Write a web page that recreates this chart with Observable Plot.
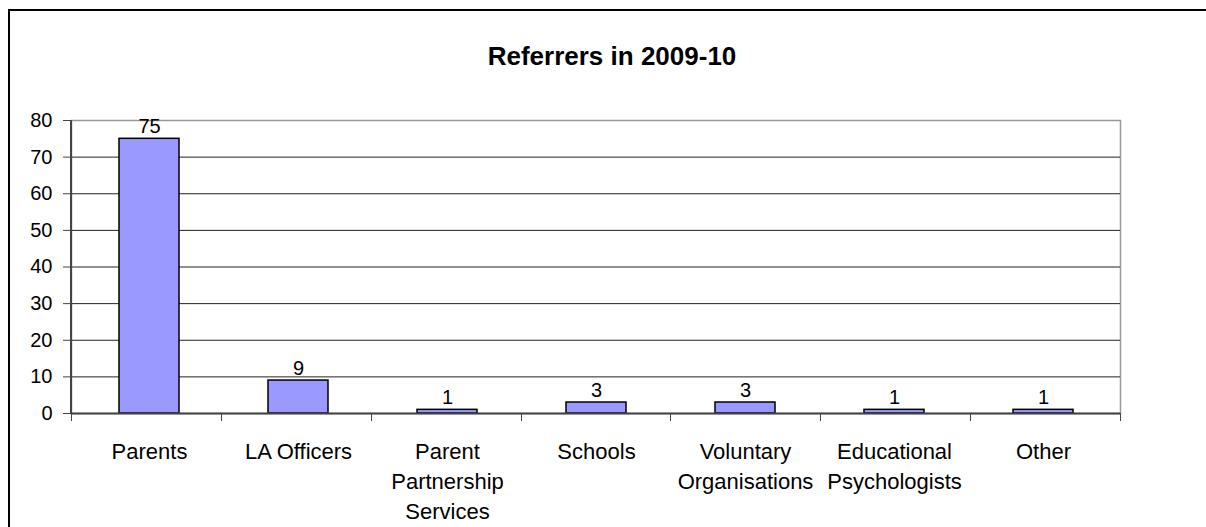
<!DOCTYPE html>
<html>
<head>
<meta charset="utf-8">
<script src="https://cdn.jsdelivr.net/npm/d3@7"></script>
<script src="https://cdn.jsdelivr.net/npm/@observablehq/plot@0.6"></script>
<style>
  html, body { margin: 0; padding: 0; background: #fff; }
  #chart { position: relative; width: 1206px; height: 527px; overflow: hidden; font-family: "Liberation Sans", Arial, sans-serif; }
  #border { position: absolute; left: 8px; top: 9px; width: 1400px; height: 700px; border-top: 2px solid #000; border-left: 2px solid #000; }
  #title { position: absolute; left: 612px; top: 41px; transform: translateX(-50%); font-size: 26px; font-weight: bold; white-space: nowrap; color: #000; }
  #plot { position: absolute; left: 0; top: 0; }
</style>
</head>
<body>
<div id="chart">
  <div id="border"></div>
  <div id="plot"></div>
  <div id="title">Referrers in 2009-10</div>
</div>
<script>
const categories = ["Parents", "LA Officers", "Parent\nPartnership\nServices", "Schools", "Voluntary\nOrganisations", "Educational\nPsychologists", "Other"];
const values = [75, 9, 1, 3, 3, 1, 1];
const yTicks = [0, 10, 20, 30, 40, 50, 60, 70, 80];

const data = categories.map((c, i) => ({category: c, value: values[i]}));

// draws the left axis line and the category boundary ticks of the x axis
function axisLines(index, scales, values, dims) {
  const g = d3.create("svg:g");
  const x0 = dims.marginLeft, x1 = dims.width - dims.marginRight;
  const y0 = dims.marginTop, y1 = dims.height - dims.marginBottom;
  const n = categories.length;
  const step = (x1 - x0) / n;
  g.append("line").attr("x1", x0).attr("x2", x0).attr("y1", y0).attr("y2", y1 + 1)
    .attr("stroke", "#444").attr("stroke-width", 2);
  for (let i = 0; i <= n; i++) {
    const px = Math.round(x0 + i * step) + 0.5;
    g.append("line").attr("x1", px).attr("x2", px).attr("y1", y1).attr("y2", y1 + 8)
      .attr("stroke", "#444").attr("stroke-width", 1);
  }
  return g.node();
}

const plot = Plot.plot({
  width: 1206,
  height: 527,
  marginLeft: 71,
  marginRight: 86,
  marginTop: 120,
  marginBottom: 114,
  style: {fontFamily: "'Liberation Sans', Arial, sans-serif", background: "transparent", color: "#000"},
  x: {domain: categories, paddingInner: 0.6, paddingOuter: 0.3},
  y: {domain: [0, 80]},
  marks: [
    Plot.frame({stroke: "#999", strokeWidth: 1.5}),
    Plot.ruleY(yTicks.filter(d => d > 0 && d < 80), {stroke: "#222", strokeWidth: 1}),
    Plot.barY(data, {x: "category", y: "value", fill: "#9999ff", stroke: "#000", strokeWidth: 1.5}),
    Plot.ruleY([0], {stroke: "#444", strokeWidth: 2}),
    axisLines,
    Plot.text(data, {x: "category", y: "value", text: d => String(d.value), lineAnchor: "bottom", dy: -6, fontSize: 20, fill: "#000"}),
    Plot.axisY({ticks: yTicks, tickSize: 8, tickPadding: 11, fontSize: 20, stroke: "#444", label: null, tickFormat: d => String(d)}),
    Plot.axisX({tickSize: 0, tickPadding: 24, fontSize: 22, lineHeight: 1.36, label: null})
  ]
});
document.getElementById("plot").appendChild(plot);
</script>
</body>
</html>
